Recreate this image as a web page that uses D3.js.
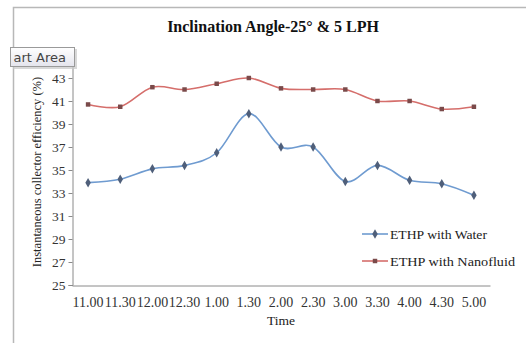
<!DOCTYPE html>
<html>
<head>
<meta charset="utf-8">
<script src="https://cdn.jsdelivr.net/npm/d3@7"></script>
<style>
  html, body { margin: 0; padding: 0; background: #fff; }
  svg { display: block; }
</style>
</head>
<body>
<svg id="chart" width="526" height="343"></svg>
<script>
// Sampling times (hh.mm) along the day
const times = ["11.00", "11.30", "12.00", "12.30", "1.00", "1.30", "2.00", "2.30", "3.00", "3.30", "4.00", "4.30", "5.00"];
// Instantaneous collector efficiency (%)
const waterEff = [33.9, 34.2, 35.1, 35.4, 36.5, 39.9, 37.0, 37.0, 34.0, 35.4, 34.1, 33.8, 32.8];
const nanoEff = [40.7, 40.5, 42.2, 42.0, 42.5, 43.0, 42.1, 42.0, 42.0, 41.0, 41.0, 40.3, 40.5];
const yTicks = [25, 27, 29, 31, 33, 35, 37, 39, 41, 43];
const seriesNames = ["ETHP with Water", "ETHP with Nanofluid"];

const svg = d3.select("#chart");
const serif = "'Liberation Serif', 'Times New Roman', serif";

const plot = { left: 72, right: 490, top: 55, bottom: 285 };

const x = d3.scaleBand().domain(times).range([plot.left, plot.right]);
const y = d3.scaleLinear().domain([25, 45]).range([plot.bottom, plot.top]);

// Outer chart frame (top and left edges)
svg.append("path")
  .attr("d", `M13.5,343 V7.5 H526`)
  .attr("fill", "none")
  .attr("stroke", "#b8b8b8")
  .attr("stroke-width", 1.5);

// Title
svg.append("text")
  .attr("x", 273).attr("y", 32)
  .attr("text-anchor", "middle")
  .attr("font-family", serif)
  .attr("font-weight", "bold")
  .attr("font-size", 16)
  .attr("fill", "#111")
  .text("Inclination Angle-25° & 5 LPH");

// Y axis
const yAxis = d3.axisLeft(y).tickValues(yTicks).tickSize(4).tickPadding(3).tickFormat(d3.format("d"));
const gy = svg.append("g").attr("transform", `translate(${plot.left + 0.5},0)`).call(yAxis);
gy.select(".domain").attr("stroke", "#8a8a8a");
gy.selectAll(".tick line").attr("stroke", "#8a8a8a");
gy.selectAll(".tick text")
  .attr("font-family", serif).attr("font-size", 13.5).attr("fill", "#333");

// X axis
const xAxis = d3.axisBottom(x).tickSize(0).tickPadding(12);
const gx = svg.append("g").attr("transform", `translate(0,${plot.bottom + 0.5})`).call(xAxis);
gx.select(".domain").attr("stroke", "#8a8a8a");
gx.selectAll(".tick text")
  .attr("font-family", serif).attr("font-size", 14).attr("fill", "#333");

// Axis titles
svg.append("text")
  .attr("x", (plot.left + plot.right) / 2).attr("y", 325)
  .attr("text-anchor", "middle")
  .attr("font-family", serif).attr("font-size", 13.5).attr("fill", "#222")
  .text("Time");

svg.append("text")
  .attr("transform", `translate(41,${(plot.top + plot.bottom) / 2 + 2}) rotate(-90)`)
  .attr("text-anchor", "middle")
  .attr("font-family", serif).attr("font-size", 12.5).attr("fill", "#222")
  .text("Instantaneous collector efficiency (%)");

// Series
const series = [
  { name: seriesNames[0], values: waterEff, color: "#6f9bd0", marker: d3.symbolDiamond, mcolor: "#4f5f7a" },
  { name: seriesNames[1], values: nanoEff, color: "#d56e6b", marker: d3.symbolSquare, mcolor: "#7a4a4a" }
];

const line = d3.line()
  .x((d, i) => x(times[i]) + x.bandwidth() / 2)
  .y(d => y(d))
  .curve(d3.curveCardinal.tension(0));

series.forEach(s => {
  svg.append("path")
    .datum(s.values)
    .attr("d", line)
    .attr("fill", "none")
    .attr("stroke", s.color)
    .attr("stroke-width", 1.6);
  svg.selectAll(null)
    .data(s.values)
    .join("path")
    .attr("transform", (d, i) => `translate(${x(times[i]) + x.bandwidth() / 2},${y(d)})`)
    .attr("d", d3.symbol().type(s.marker).size(s.marker === d3.symbolSquare ? 20 : 26))
    .attr("fill", s.mcolor);
});

// Legend
const legend = svg.append("g");
series.forEach((s, i) => {
  const ly = 234 + i * 27;
  legend.append("line")
    .attr("x1", 362).attr("x2", 388).attr("y1", ly).attr("y2", ly)
    .attr("stroke", s.color).attr("stroke-width", 1.6);
  legend.append("path")
    .attr("transform", `translate(375,${ly})`)
    .attr("d", d3.symbol().type(s.marker).size(s.marker === d3.symbolSquare ? 20 : 26))
    .attr("fill", s.mcolor);
  legend.append("text")
    .attr("x", 390).attr("y", ly + 4.5)
    .attr("font-family", serif).attr("font-size", 13.5).attr("fill", "#222")
    .attr("textLength", i === 0 ? 97 : 125)
    .attr("lengthAdjust", "spacingAndGlyphs")
    .text(s.name);
});

// Hover label for the chart area (its left part runs past the frame)
const tip = svg.append("g");
const defs = svg.append("defs");
const grad = defs.append("linearGradient")
  .attr("id", "tipFill").attr("x1", 0).attr("y1", 0).attr("x2", 0).attr("y2", 1);
grad.append("stop").attr("offset", 0).attr("stop-color", "#ffffff");
grad.append("stop").attr("offset", 1).attr("stop-color", "#e4e4ec");
tip.append("rect")
  .attr("x", 13).attr("y", 49).attr("width", 64).attr("height", 20)
  .attr("fill", "#c8c8c8").attr("opacity", 0.7);
tip.append("rect")
  .attr("x", 10.5).attr("y", 47.5).attr("width", 64).attr("height", 19)
  .attr("fill", "url(#tipFill)").attr("stroke", "#9a9a9a");
tip.append("text")
  .attr("x", 66).attr("y", 62)
  .attr("text-anchor", "end")
  .attr("font-family", "'DejaVu Sans', sans-serif").attr("font-size", 13)
  .attr("fill", "#444")
  .text("art Area");
</script>
</body>
</html>
